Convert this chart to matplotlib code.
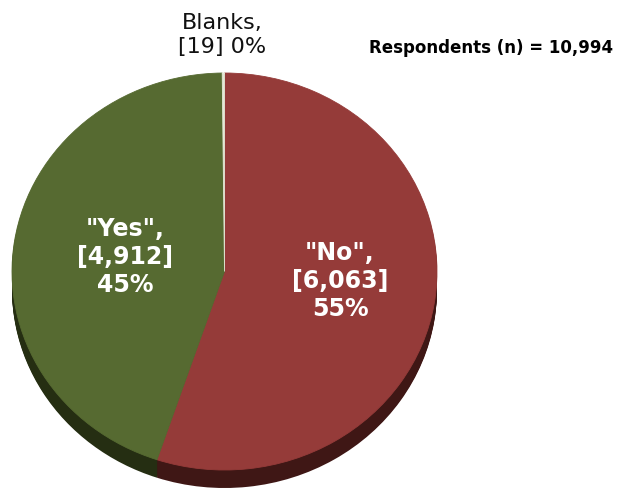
import matplotlib
matplotlib.use("Agg")
import matplotlib.pyplot as plt
from matplotlib.transforms import Affine2D

# Survey answers
categories = ['"No"', '"Yes"', 'Blanks']
counts = [6063, 4912, 19]
respondents = 10994

top_colors = ["#953B39", "#566A31", "#E4E8D6"]
side_colors = ["#3F1715", "#252E12", "#9AA08A"]

W, H = 617, 490
fig = plt.figure(figsize=(W / 100, H / 100), dpi=100)
ax = fig.add_axes([0, 0, 1, 1])
ax.set_xlim(0, W)
ax.set_ylim(0, H)
ax.axis("off")

cx, cy = 224.5, H - 271.5   # centre of top face (pixel units, y up)
rx, ry = 212.5, 198.5       # ellipse radii
depth = 18                  # thickness of the disc

def place(wedges, dy):
    tr = Affine2D().scale(rx, ry).translate(cx, cy - dy) + ax.transData
    for w in wedges:
        w.set_transform(tr)

# side of the disc: stacked copies shifted down
for d in range(depth, 0, -1):
    wd, _ = ax.pie(counts, colors=side_colors, startangle=90, counterclock=False,
                   radius=1, center=(0, 0), wedgeprops=dict(linewidth=0),
                   normalize=True)
    place(wd, d)

# top face
wt, _ = ax.pie(counts, colors=top_colors, startangle=90, counterclock=False,
               radius=1, center=(0, 0), wedgeprops=dict(linewidth=0.6),
               normalize=True)
for w, c in zip(wt, top_colors):
    w.set_edgecolor(c)
place(wt, 0)
ax.set_xlim(0, W)
ax.set_ylim(0, H)
ax.set_aspect("auto")

font = "DejaVu Sans"
total = sum(counts)
pcts = [round(100 * c / total) for c in counts]

ax.text(340, H - 281, f"{categories[0]},\n[{counts[0]:,}]\n{pcts[0]}%", color="white",
        fontsize=17, fontweight="bold", family=font, ha="center", va="center",
        linespacing=1.2)
ax.text(125, H - 257, f"{categories[1]},\n[{counts[1]:,}]\n{pcts[1]}%", color="white",
        fontsize=17, fontweight="bold", family=font, ha="center", va="center",
        linespacing=1.2)
ax.text(222, H - 35, f"{categories[2]},\n[{counts[2]}] {pcts[2]}%", color="#111111",
        fontsize=16, family=font, ha="center", va="center", linespacing=1.25)
ax.text(613, H - 48, f"Respondents (n) = {respondents:,}", color="black",
        fontsize=12, fontweight="bold", family=font, ha="right", va="center")

fig.savefig("out.png", dpi=100)
